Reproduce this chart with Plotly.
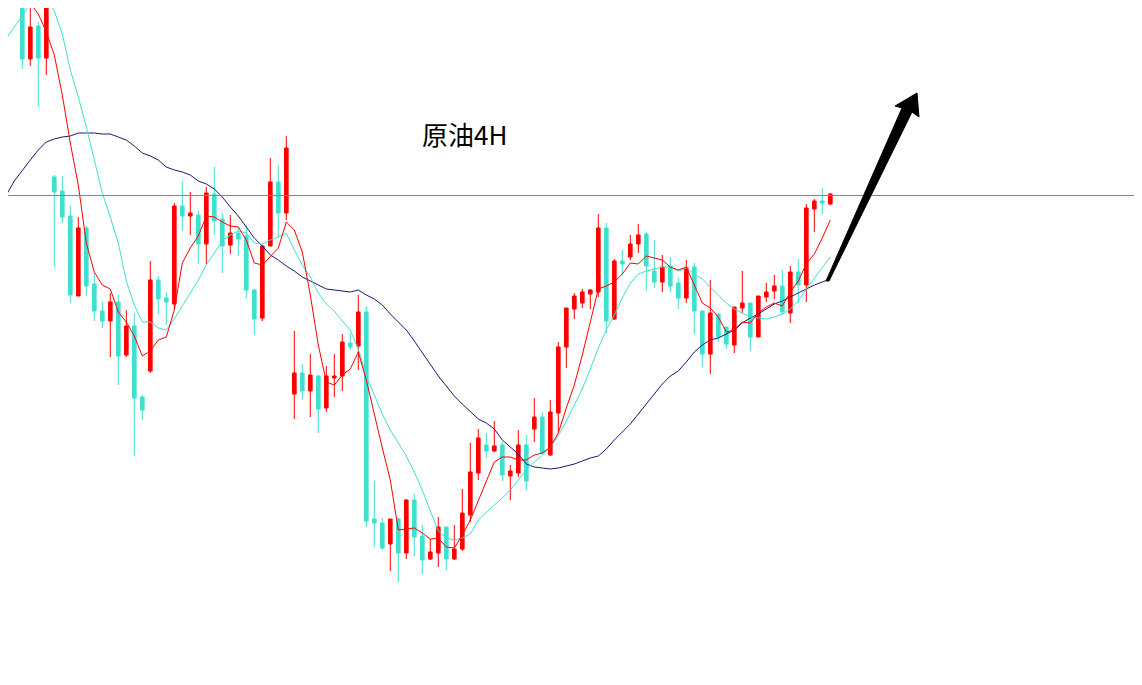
import plotly.graph_objects as go

# ==================== DATA ====================
# candle index 0..101, price in chart units
idx = list(range(102))

open_ = [703, 641, 674, 642, 523, 509, 484, 404, 472, 416,
         389, 379, 398, 345, 374, 303, 329, 420, 402, 396,
         494, 484, 485, 456, 506, 481, 455, 467, 464, 410,
         382, 454, 518, 487, 306, 327, 309, 324, 292, 322,
         324, 357, 354, 388, 181, 177, 156, 181, 147, 200,
         164, 141, 147, 173, 141, 151, 185, 227, 255, 249,
         255, 224, 227, 255, 271, 283, 245, 287, 353, 391,
         397, 406, 408, 472, 381, 439, 443, 456, 466, 429,
         418, 434, 417, 402, 433, 389, 346, 386, 373, 355,
         392, 397, 363, 403, 409, 414, 387, 428, 415, 491,
         499, 496]
close = [641, 673, 642, 694, 508, 483, 405, 472, 414, 389,
         379, 398, 344, 374, 302, 290, 420, 401, 398, 494,
         484, 487, 456, 507, 479, 454, 467, 461, 410, 381,
         454, 518, 487, 552, 327, 309, 325, 291, 324, 324,
         358, 353, 388, 179, 177, 152, 181, 147, 200, 163,
         140, 148, 173, 141, 151, 187, 228, 262, 249, 254,
         225, 229, 255, 219, 283, 247, 288, 353, 392, 404,
         408, 410, 472, 379, 439, 436, 456, 465, 434, 418,
         433, 414, 402, 432, 389, 346, 387, 363, 356, 393,
         397, 363, 404, 408, 414, 388, 428, 415, 492, 499,
         497, 506]
high = [708, 697, 678, 699, 525, 524, 494, 483, 474, 427,
        398, 407, 405, 390, 387, 305, 439, 424, 408, 497,
        519, 508, 489, 513, 533, 487, 485, 473, 475, 411,
        455, 542, 535, 564, 369, 336, 346, 325, 334, 346,
        366, 367, 405, 394, 219, 182, 181, 182, 201, 206,
        175, 161, 183, 173, 175, 211, 257, 271, 267, 279,
        258, 235, 270, 265, 302, 288, 300, 358, 392, 407,
        411, 411, 486, 477, 441, 450, 465, 476, 468, 460,
        445, 443, 422, 440, 437, 389, 420, 386, 373, 393,
        429, 397, 404, 417, 425, 430, 434, 441, 496, 501,
        512, 507]
low = [631, 634, 594, 625, 433, 477, 397, 404, 404, 379,
       372, 343, 315, 343, 244, 280, 327, 386, 375, 391,
       469, 465, 436, 436, 465, 427, 446, 444, 402, 365,
       379, 454, 463, 480, 281, 300, 283, 267, 288, 303,
       309, 350, 330, 173, 153, 150, 129, 118, 141, 144,
       126, 140, 133, 130, 140, 149, 178, 220, 242, 248,
       219, 200, 223, 210, 258, 246, 244, 267, 332, 381,
       392, 391, 403, 367, 380, 425, 440, 447, 409, 412,
       408, 408, 391, 397, 366, 333, 326, 358, 351, 347,
       387, 349, 363, 398, 401, 385, 377, 397, 398, 468,
       486, 495]

# moving averages (index -3..101)
ma_idx = list(range(-3, 102))
ma_slow = [488, 505, 519, 530, 540, 550, 558, 561, 563, 564,
           567, 567, 567, 566, 566, 563, 560, 554, 547, 544,
           540, 533, 530, 528, 525, 519, 516, 511, 503, 493,
           484, 473, 462, 454, 445, 440, 434, 429, 423, 419,
           415, 411, 410, 409, 408, 410, 405, 401, 395, 386,
           378, 370, 359, 347, 335, 324, 314, 304, 296, 288,
           281, 277, 271, 260, 253, 246, 236, 233, 232, 231,
           232, 234, 236, 239, 242, 244, 251, 260, 268, 276,
           286, 296, 306, 316, 324, 329, 338, 348, 355, 360,
           362, 366, 370, 377, 382, 386, 391, 396, 399, 403,
           407, 411, 415, 418, 421]
ma_mid = [650, 662, 673, 684, 697, 708, 704, 689, 666, 630,
          603, 573, 541, 507, 483, 457, 419, 395, 378, 378,
          372, 370, 381, 394, 407, 420, 435, 447, 459, 465,
          469, 467, 457, 456, 460, 463, 467, 450, 435, 423,
          407, 396, 389, 379, 370, 351, 324, 305, 286, 270,
          257, 244, 228, 210, 189, 169, 162, 160, 162, 166,
          180, 188, 195, 202, 210, 220, 230, 238, 245, 253,
          264, 279, 295, 311, 331, 352, 370, 385, 402, 417,
          426, 429, 431, 433, 433, 429, 432, 426, 421, 413,
          405, 397, 391, 387, 383, 382, 381, 383, 386, 391,
          399, 411, 422, 432, 443]
ma_fast = [None, None, None, 715, 697, 686, 668, 645, 605, 557,
           515, 457, 428, 415, 411, 388, 378, 364, 344, 349,
           360, 363, 390, 437, 452, 464, 484, 483, 478, 474,
           473, 460, 437, 435, 443, 452, 478, 470, 448, 405,
           355, 318, 315, 325, 331, 348, 320, 285, 252, 220,
           170, 171, 172, 167, 161, 162, 153, 152, 165, 180,
           200, 218, 238, 243, 243, 240, 240, 245, 247, 253,
           267, 292, 315, 345, 378, 411, 414, 418, 426, 437,
           436, 444, 442, 440, 433, 430, 433, 415, 397, 392,
           383, 368, 370, 378, 377, 387, 393, 397, 394, 408,
           419, 436, 446, 462, 480]

level = 504.5
title_text = '原油4H'

# the page puts the figure 8px in from the top-left corner
OFF = 8
W, H = 1142 - OFF, 685 - OFF
RED = '#FF0000'
TEAL = '#40E0D0'
NAVY = '#191970'

fig = go.Figure()

fig.add_trace(go.Candlestick(
    x=idx, open=open_, high=high, low=low, close=close,
    increasing=dict(line=dict(color=RED, width=1), fillcolor=RED),
    decreasing=dict(line=dict(color=TEAL, width=1), fillcolor=TEAL),
    whiskerwidth=0,
    showlegend=False,
    hoverinfo='skip',
))

for vals, col in [(ma_slow, NAVY), (ma_mid, TEAL), (ma_fast, RED)]:
    fig.add_trace(go.Scatter(
        x=ma_idx, y=vals, mode='lines',
        line=dict(color=col, width=1),
        showlegend=False, hoverinfo='skip',
    ))

# horizontal level line
fig.add_hline(y=level, line=dict(color='#708aa8', width=1))


def px(x, y):
    # screen pixel -> paper coords
    return f'{(x - OFF) / W:.5f},{1 - (y - OFF) / H:.5f}'


# tapered black arrow
arrow_pts = [(826, 281), (902, 108), (895, 106), (917, 93),
             (919, 117), (912, 112), (829, 281)]
path = 'M ' + ' L '.join(px(x, y) for x, y in arrow_pts) + ' Z'
fig.add_shape(type='path', path=path, xref='paper', yref='paper',
              fillcolor='black', line=dict(color='black', width=1))

fig.add_annotation(
    x=(464 - OFF) / W, y=1 - (133 - OFF) / H, xref='paper', yref='paper',
    xanchor='center', yanchor='middle',
    text=title_text, showarrow=False,
    font=dict(family='Noto Sans CJK SC', size=26, color='black'),
)

x0 = (OFF - 22.3) / 8
y1 = 700 - OFF
fig.update_layout(
    width=W, height=H,
    margin=dict(l=0, r=0, t=0, b=0),
    plot_bgcolor='white', paper_bgcolor='white',
    xaxis=dict(visible=False, range=[x0, x0 + W / 8],
               rangeslider=dict(visible=False)),
    yaxis=dict(visible=False, range=[y1 - H, y1]),
    boxgap=0.35,
)

fig.write_html('out.html')
